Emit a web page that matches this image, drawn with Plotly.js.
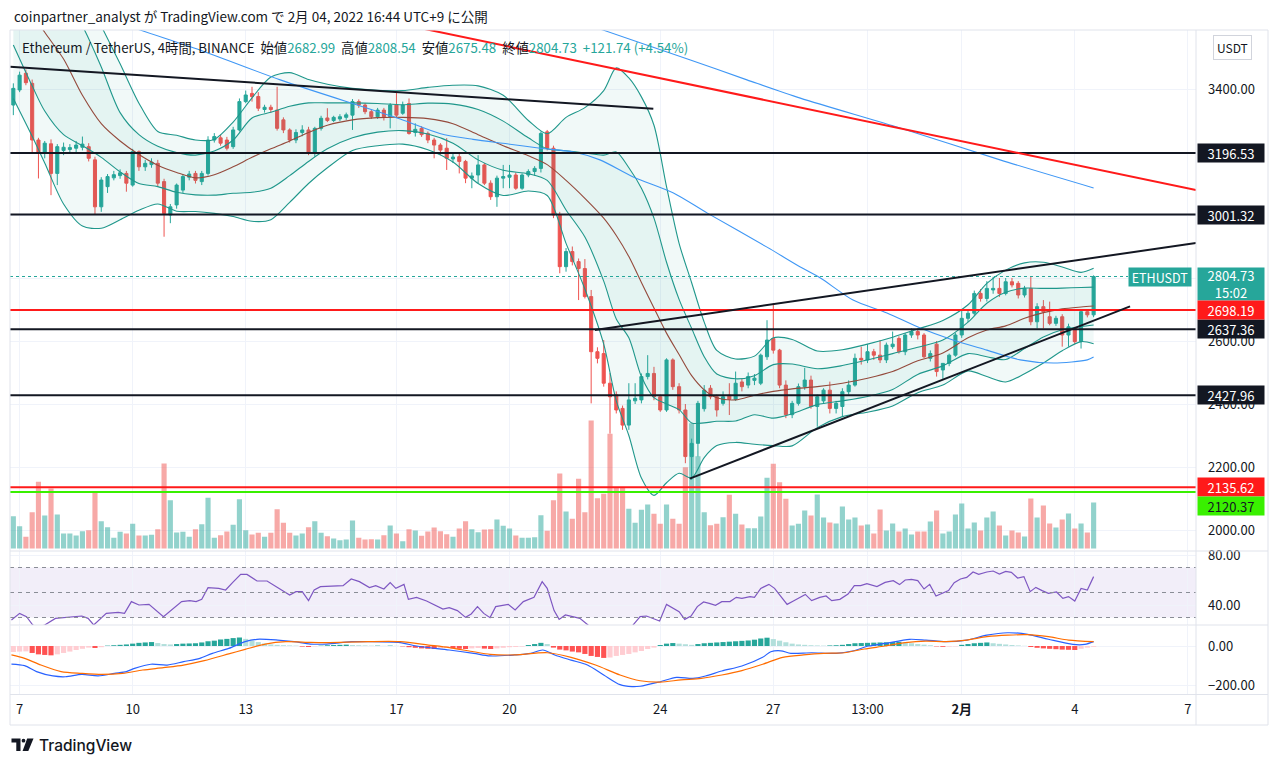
<!DOCTYPE html>
<html><head><meta charset="utf-8">
<script src="https://cdn.plot.ly/plotly-3.0.1.min.js"></script>
<style>html,body{margin:0;padding:0;background:#fff;overflow:hidden}#chart{width:1280px;height:765px}</style>
</head><body><div id="chart"></div>
<script>
// ---------------- DATA ----------------
const openP = [
3349,3397,3450,3418,3238,3196,3226,3132,3205,3208,
3212,3215,3217,3175,3026,3090,3118,3125,3132,3095,
3201,3153,3160,3164,3106,3000,3032,3079,3120,3132,
3106,3132,3238,3245,3238,3217,3270,3360,3386,3376,
3335,3342,3333,3302,3270,3238,3262,3270,3196,3275,
3308,3300,3305,3310,3317,3360,3349,3328,3312,3333,
3312,3349,3323,3354,3262,3275,3259,3238,3222,3212,
3178,3185,3170,3117,3127,3159,3101,3058,3117,3120,
3127,3085,3127,3138,3148,3264,3212,3000,2836,2884,
2852,2830,2741,2566,2560,2466,2429,2386,2333,2410,
2413,2487,2497,2423,2381,2540,2455,2381,2233,2275,
2385,2450,2423,2402,2428,2415,2470,2460,2475,2466,
2550,2608,2571,2460,2366,2402,2455,2476,2392,2410,
2444,2386,2392,2439,2460,2545,2540,2566,2555,2540,
2582,2608,2566,2619,2630,2619,2545,2590,2508,2529,
2555,2619,2672,2688,2751,2735,2762,2767,2751,2788,
2783,2746,2767,2661,2709,2677,2656,2677,2619,2640,
2598,2693,2682.99];
const highP = [
3418,3455,3462,3430,3245,3235,3240,3225,3230,3225,
3235,3249,3228,3185,3120,3130,3140,3145,3140,3210,
3205,3175,3180,3175,3115,3035,3100,3130,3140,3140,
3140,3250,3260,3255,3248,3280,3370,3395,3407,3390,
3350,3350,3407,3310,3275,3272,3285,3280,3280,3315,
3339,3315,3320,3325,3368,3367,3355,3335,3340,3340,
3355,3392,3360,3370,3291,3282,3265,3245,3228,3244,
3200,3196,3175,3135,3190,3165,3110,3125,3159,3159,
3135,3132,3145,3155,3265,3270,3220,3010,2895,2900,
2862,2860,2762,2580,2603,2498,2440,2395,2466,2466,
2497,2555,2518,2430,2545,2545,2466,2400,2290,2410,
2460,2460,2430,2440,2466,2503,2480,2500,2495,2560,
2666,2720,2575,2475,2410,2465,2515,2490,2430,2450,
2471,2410,2450,2475,2560,2582,2590,2575,2603,2595,
2630,2615,2625,2640,2640,2625,2570,2600,2530,2560,
2625,2700,2700,2760,2765,2790,2804,2800,2800,2800,
2790,2775,2804,2720,2730,2725,2680,2685,2655,2645,
2698,2698,2808.54];
const lowP = [
3317,3390,3412,3200,3116,3180,3063,3095,3190,3195,
3200,3205,3170,3000,3010,3070,3110,3115,3074,3090,
3140,3140,3150,3090,2931,2974,3020,3070,3110,3100,
3095,3125,3230,3220,3205,3210,3265,3355,3360,3330,
3325,3325,3268,3260,3230,3228,3250,3190,3185,3268,
3295,3295,3298,3302,3270,3340,3320,3305,3305,3300,
3275,3310,3318,3255,3249,3248,3228,3180,3190,3143,
3165,3132,3101,3085,3101,3095,3048,3026,3085,3085,
3080,3080,3120,3125,3135,3205,2990,2815,2820,2840,
2730,2735,2402,2529,2455,2306,2370,2318,2318,2400,
2402,2478,2412,2375,2375,2445,2370,2212,2159,2233,
2376,2415,2360,2395,2365,2410,2440,2450,2460,2460,
2540,2560,2450,2355,2355,2395,2445,2385,2328,2400,
2370,2370,2360,2430,2455,2525,2530,2540,2530,2530,
2575,2560,2555,2610,2605,2545,2535,2487,2480,2520,
2550,2610,2660,2680,2725,2725,2750,2740,2745,2770,
2735,2738,2650,2640,2640,2650,2648,2582,2582,2590,
2576,2675,2675.48];
const closeP = [
3402,3444,3420,3238,3196,3228,3132,3217,3215,3214,
3222,3225,3180,3026,3111,3122,3128,3134,3101,3201,
3153,3164,3168,3101,3005,3026,3095,3122,3130,3110,
3132,3238,3249,3228,3212,3270,3360,3381,3376,3339,
3342,3335,3275,3270,3238,3262,3270,3196,3275,3307,
3300,3310,3312,3318,3360,3349,3328,3312,3333,3312,
3349,3317,3349,3259,3272,3255,3238,3222,3206,3180,
3184,3170,3117,3124,3159,3101,3058,3117,3122,3127,
3085,3127,3138,3148,3259,3212,3000,2836,2884,2852,
2830,2741,2566,2545,2466,2423,2381,2333,2413,2418,
2487,2497,2423,2381,2540,2455,2381,2233,2275,2402,
2444,2423,2381,2423,2415,2466,2455,2487,2482,2555,
2603,2571,2460,2366,2402,2455,2476,2392,2423,2444,
2386,2402,2439,2460,2545,2540,2566,2555,2540,2587,
2590,2566,2619,2630,2619,2550,2560,2503,2529,2555,
2619,2672,2688,2751,2735,2767,2767,2751,2788,2778,
2746,2767,2661,2709,2693,2656,2672,2619,2645,2598,
2693,2683,2804.73];
// volume, thousand ETH
const volume = [
129,89,47,145,267,132,240,136,60,60,
52,69,73,223,109,85,43,67,60,99,
52,52,55,77,340,193,64,67,47,77,
97,203,43,53,68,95,197,73,56,63,
47,63,157,103,63,52,60,85,109,63,
49,40,33,36,112,43,36,37,36,53,
92,60,29,77,72,51,68,84,69,57,
47,80,109,77,65,76,77,116,91,80,
52,43,43,45,133,71,193,300,148,119,
279,145,512,201,219,459,244,244,159,103,
155,176,139,99,176,119,99,325,501,369,
145,93,99,125,215,139,96,81,81,128,
283,339,265,199,92,99,152,132,216,124,
104,100,168,116,124,92,96,60,156,72,
100,68,80,56,68,68,108,152,60,68,
136,180,80,104,72,124,148,92,52,72,
64,48,200,124,172,100,84,116,140,80,
100,64,184];
const macdHist = [
-30,-28,-27,-35,-42,-45,-47,-42,-35,-28,
-20,-14,-8,-10,-6,2,4,6,8,12,
16,18,20,15,10,8,10,12,13,14,
18,24,27,33,36,40,43,36,28,20,
13,8,6,4,3,2,-3,-5,-2,2,
4,5,6,7,5,4,3,2,2,1,
2,1,-2,-6,-9,-12,-14,-15,-12,-10,
-12,-14,-15,-12,-10,-13,-15,-12,-9,-6,
-5,-3,5,10,16,10,-8,-18,-22,-28,
-32,-40,-50,-55,-60,-58,-50,-45,-40,-32,
-25,-15,-8,5,12,15,12,9,6,10,
14,16,18,20,22,24,26,28,32,38,
42,35,27,19,12,8,6,4,3,2,
3,4,6,10,14,15,16,17,18,19,
20,21,18,14,10,7,4,-2,-4,-3,
-2,6,10,14,16,18,14,11,8,5,
3,1,-5,-9,-12,-14,-16,-18,-19,-20,
-14,-8,-4];

// Bollinger bands, read at sample candles
const bbIdx   = [0,3,5,8,11,14,17,20,23,26,29,32,35,38,41,44,47,50,54,58,62,66,70,74,78,82,85,88,91,94,96,98,100,102,104,106,108,110,112,115,118,121,124,128,132,136,140,144,148,152,155,158,161,164,167,170,172];
const bbMid   = [3715,3640,3580,3495,3380,3290,3235,3192,3158,3135,3118,3128,3153,3183,3210,3235,3262,3285,3302,3309,3310,3306,3290,3255,3220,3188,3160,3110,3053,2990,2935,2868,2786,2705,2625,2557,2490,2445,2420,2413,2428,2440,2448,2455,2466,2482,2503,2537,2562,2610,2635,2648,2672,2690,2702,2708,2711];
const bbInUp  = [3885,3810,3770,3690,3600,3470,3325,3255,3218,3198,3190,3203,3238,3308,3326,3345,3356,3356,3356,3354,3350,3355,3352,3335,3298,3245,3210,3204,3197,3190,3200,3150,3085,2990,2850,2732,2640,2550,2495,2480,2490,2525,2527,2512,2522,2540,2560,2580,2603,2660,2720,2755,2768,2767,2768,2770,2771];
const bbOutUp = [4050,3990,3950,3840,3720,3600,3480,3355,3265,3253,3238,3240,3295,3372,3438,3452,3430,3415,3402,3396,3395,3405,3412,3410,3380,3300,3258,3310,3341,3395,3467,3435,3375,3285,3090,2910,2785,2660,2570,2543,2552,2610,2605,2568,2572,2590,2612,2638,2665,2715,2783,2825,2848,2850,2835,2818,2831];
const bbInLo  = [3540,3410,3330,3255,3220,3183,3137,3100,3090,3072,3064,3063,3069,3072,3085,3125,3170,3210,3245,3263,3268,3257,3228,3175,3142,3131,3110,3016,2930,2790,2670,2610,2487,2420,2400,2382,2340,2340,2345,2346,2366,2355,2369,2398,2410,2424,2446,2494,2521,2560,2550,2541,2576,2613,2636,2646,2651];
const bbOutLo = [3370,3250,3165,3035,2965,2958,2985,3015,3035,3012,3011,3005,2995,2980,2985,3040,3100,3150,3205,3220,3225,3207,3168,3100,3062,3076,3062,2910,2765,2590,2410,2300,2165,2110,2150,2180,2165,2230,2268,2278,2272,2268,2267,2325,2360,2374,2394,2436,2460,2505,2487,2470,2496,2530,2569,2598,2591];

// moving averages (blue), read at sample candles
const ma1Idx = [15,20.2,29.7,42.5,61.6,67.9,73.2,78.6,83.9,89.2,93.4,98.7,105.1,110.5,120,125.3,128.5,133.7,139.1,144.4,149.6,155,160.3,165.6,171,172];
const ma1Val = [3624,3587,3524,3429,3305,3259,3240,3226,3212,3200,3175,3121,3070,3006,2898,2835,2800,2730,2689,2641,2603,2571,2540,2530,2540,2549];
const ma2Idx = [90,93.9,107.8,116.8,125.3,141.2,157.1,172];
const ma2Val = [3612,3587,3492,3429,3371,3276,3175,3086];

// RSI
const rsiIdx = [-0.3,1,2.1,3.1,4,5,6.7,8.3,10.9,11.9,12.8,14.8,16.7,17.7,18.8,20,21.6,23.9,24.9,26.8,28.1,29.1,30,31,32.7,33.8,34.9,36.2,37.2,38.8,40.4,42.1,44,45,46,47,47.9,48.9,52.5,53.8,55.1,56.7,57.7,59,60,60.9,62.2,62.9,64.2,65.8,67.4,68.4,69.4,70.7,72,72.9,73.9,74.9,75.9,76.8,78.8,79.9,81.2,82.9,84.2,85,86.1,86.9,87.9,89.2,90.2,91.5,93,95,97,98.5,99.8,100.8,101.7,102.9,104,105,106,106.9,107.9,108.9,109.9,110.8,111.8,112.8,114.1,115.1,116,117.3,118,119,120.3,121.2,122.2,123.2,124.2,125.5,126.1,127.1,128.4,129.4,130.3,131.6,132.9,133.9,134.9,135.9,137.5,138.8,140.1,141.1,142,143,144,145,145.9,146.9,147.9,148.9,149.8,150.8,151.8,152.8,153.7,155,156,157,158,158.9,159.9,160.9,161.9,162.8,163.8,164.8,166.1,167.1,168,169,170,171,172];
const rsiVal = [28,33.3,30.7,24,22,24,29.3,29.9,31.2,29.3,24,33.3,34.1,33.3,42.7,40,40.5,30.7,34.7,42.7,43.5,42.7,44.5,53.9,53.3,52,57.9,64.5,64.5,59.2,59.2,53.9,48,50.7,50.7,43.5,52,54.7,55.5,60.8,58.7,53.9,55.5,52.8,57.9,53.3,56.5,44.5,46.1,43.2,39.5,36.8,37.9,35.5,30.1,32.8,38.7,33.3,29.9,38.7,40.5,36,42.7,46.1,58.7,53.3,35.5,28.5,32,30.7,29.3,24,20,18,20,23,30.7,31.2,29.3,27.2,40.5,37.3,34.7,28.5,31.2,38.7,42.4,41.3,39.7,42.7,42.7,46.1,45.3,46.7,46.1,53.3,56.5,53.3,46.7,40.5,43.2,47.2,48.5,43.5,46.1,47.2,43.5,44.5,48.8,55.5,55.5,57.1,54.7,58.1,59.5,56.3,60,60.5,59.5,52.8,56.5,47.2,49.3,51.5,57.9,60.8,62.1,66.4,64.5,66.4,67.2,64.8,66.9,66.1,61.6,62.7,50.7,54.1,51.5,49.3,50.4,45.3,46.7,43.2,53.3,52,62.7];
const rsiUpper = 70, rsiMiddle = 50, rsiLower = 30;

// MACD line and signal
const macdIdx = [-0.3,1.8,3.7,6.3,8.3,10.9,13.5,16.1,18,19.3,21.9,24.5,27.1,29.7,31.7,34.3,36.9,38.8,42.1,44.7,47.3,49.9,53.8,56.4,61.6,64.2,69.4,73.3,75.9,79.8,82.4,84.3,86.2,88.8,91.4,94,96.6,98.5,99.8,103,105.6,108.2,110.2,112.8,116,119.3,120.6,122.2,123.8,127.1,131,133.6,136.2,138.8,142.7,145.3,148.5,151.8,155,158.3,161.5,164.8,168.7,170.6,172];
const macdVal = [-91,-99,-129,-151,-155,-143,-151,-138,-129,-113,-92,-96,-79,-62,-37,-12,22,34,30,22,10,10,22,22,17,0,-20,-37,-50,-45,-37,-20,-45,-71,-96,-146,-195,-205,-203,-180,-158,-163,-151,-126,-101,-57,-29,-24,-37,-34,-37,-25,0,13,34,30,22,30,55,67,59,34,8,8,22];
const sigIdx = [-0.3,1.8,4.4,7.6,10.9,14.1,17.4,20.6,23.9,27.1,30.4,34.3,36.9,40.1,43.4,47.3,49.9,56.4,61.6,66.1,69.4,73.3,75.9,79.8,85,88.8,92.7,96.6,99.8,103,106.3,109.5,112.8,116,119.3,122.5,125.8,129,132.3,135.5,138.8,142,145.3,148.5,151.8,155,158.3,161.5,164.8,168,172];
const sigVal = [-45,-62,-96,-129,-138,-143,-138,-121,-109,-96,-74,-40,-17,10,22,18,17,22,22,5,-8,-29,-42,-45,-34,-57,-96,-146,-175,-182,-171,-163,-146,-124,-92,-57,-45,-37,-34,-15,0,17,25,22,30,47,55,57,47,30,22];

// drawings
const levelBlack = [3196.53, 3001.32, 2637.36, 2427.96];
const levelRed = [2698.19, 2135.62];
const levelGreen = [2120.37];
const tlTopX = [-0.5, 101.9], tlTopY = [3471, 3337];
const tlRedX = [50, 188.3],   tlRedY = [3655, 3079];
const tlUpX  = [92.6, 188.3], tlUpY  = [2635, 2911];
const tlLowX = [107.7, 177.8], tlLowY = [2163, 2710];

// axis ticks
const tickIdx  = [1,19,37,61,79,103,121,136,151,169,187];
const tickText = ['7','10','13','17','20','24','27','13:00','<b>2月</b>','4','7'];
const priceTicks = [2000,2200,2400,2600,2800,3000,3200,3400];
const priceTicksHidden = [2800, 3000, 3200];   // fully covered by price tags in the reference
const rsiTicks = [40, 80];
const macdTicks = [-200, 0];
const macdTickText = ['\u2212200.00', '0.00'];

// ---------------- LAYOUT / STYLE ----------------
const W = 1280, H = 765;
const px = x => x / W;
const py = y => 1 - y / H;
const FONT = '"Noto Sans CJK JP", "Noto Sans", sans-serif';
const TEAL = '#26a69a', RED = '#ef5350', INK = '#131722';
const idx = closeP.map((_, i) => i);
const last = closeP.length - 1;
const isUp = idx.map(i => closeP[i] >= openP[i]);
const volColors = isUp.map(u => u ? 'rgba(38,166,154,0.5)' : 'rgba(239,83,80,0.5)');
const histColors = macdHist.map((v, i) => {
  const prev = i > 0 ? macdHist[i - 1] : v;
  if (v >= 0) return v >= prev ? '#26a69a' : '#b2dfdb';
  return v < prev ? '#ff5252' : '#ffcdd2';
});

const xDom = [px(10), px(1196)];
const xRange = [-0.53, 188.3];
const mainDom = [py(550), py(30)];
const rsiDom = [py(625), py(551)];
const macdDom = [py(694), py(626)];
const priceRange = [1936.5, 3587.3];
const volRange = [-6, 2074];
const rsiRange = [24, 83.2];
const macdRange = [-242, 101];

const bbLine = '#1f978b';
const line = (x, y, color, extra) => Object.assign({type:'scatter', mode:'lines', x, y, xaxis:'x', yaxis:'y4', hoverinfo:'skip', line:{color, width:1.1, shape:'spline', smoothing:0.8}}, extra || {});

const traces = [
  {type:'bar', x: idx, y: volume, xaxis:'x', yaxis:'y', marker:{color: volColors, line:{width:0}}, hoverinfo:'skip'},
  line(bbIdx, bbOutUp, bbLine),
  line(bbIdx, bbOutLo, bbLine, {fill:'tonexty', fillcolor:'rgba(38,166,154,0.065)'}),
  line(bbIdx, bbInUp, bbLine),
  line(bbIdx, bbInLo, bbLine, {fill:'tonexty', fillcolor:'rgba(38,166,154,0.06)'}),
  line(bbIdx, bbMid, '#944a3c'),
  line(ma1Idx, ma1Val, '#3f97f5'),
  line(ma2Idx, ma2Val, '#3f97f5'),
  {type:'candlestick', x: idx, open: openP, high: highP, low: lowP, close: closeP, xaxis:'x', yaxis:'y4',
   increasing:{line:{color:TEAL, width:1}, fillcolor:TEAL}, decreasing:{line:{color:RED, width:1}, fillcolor:RED},
   whiskerwidth:0, hoverinfo:'skip'},
  {type:'scatter', mode:'lines', x: rsiIdx, y: rsiVal, xaxis:'x2', yaxis:'y2', line:{color:'#7e57c2', width:1.2}, hoverinfo:'skip'},
  {type:'bar', x: idx, y: macdHist, xaxis:'x3', yaxis:'y3', marker:{color: histColors, line:{width:0}}, hoverinfo:'skip'},
  {type:'scatter', mode:'lines', x: macdIdx, y: macdVal, xaxis:'x3', yaxis:'y3', line:{color:'#2962ff', width:1.2, shape:'spline', smoothing:0.8}, hoverinfo:'skip'},
  {type:'scatter', mode:'lines', x: sigIdx, y: sigVal, xaxis:'x3', yaxis:'y3', line:{color:'#ff6d00', width:1.2, shape:'spline', smoothing:0.8}, hoverinfo:'skip'}
];

const tickFont = {family: FONT, size: 13, color: INK};
const gridC = '#f0f3fa';
const xBase = {domain: xDom, range: xRange, autorange:false, tickvals: tickIdx, showticklabels:false, ticks:'', showgrid:true, gridcolor:gridC, gridwidth:1, zeroline:false, showline:false, fixedrange:true, rangeslider:{visible:false}};
const yRight = {side:'right', ticks:'', showgrid:true, gridcolor:gridC, zeroline:false, showline:false, tickfont: tickFont, ticklabelstandoff: 11, fixedrange:true};

const shapes = [];
// RSI band and guides
shapes.push({type:'rect', xref:'x2 domain', yref:'y2', x0:0, x1:1, y0:rsiLower, y1:rsiUpper, fillcolor:'rgba(126,87,194,0.1)', line:{width:0}, layer:'below'});
[rsiUpper, rsiMiddle, rsiLower].forEach(v => shapes.push({type:'line', xref:'x2 domain', yref:'y2', x0:0, x1:1, y0:v, y1:v, line:{color:'#8a8d96', width:1, dash:'4px,4px'}}));
// last price dotted
shapes.push({type:'line', xref:'x domain', yref:'y4', x0:0, x1:(1128 - 10) / 1186, y0:closeP[last], y1:closeP[last], line:{color:TEAL, width:1, dash:'dot'}});
// horizontal levels
levelBlack.forEach(v => shapes.push({type:'line', xref:'x domain', yref:'y4', x0:0, x1:1, y0:v, y1:v, line:{color:'#131722', width:2}}));
levelRed.forEach(v => shapes.push({type:'line', xref:'x domain', yref:'y4', x0:0, x1:1, y0:v, y1:v, line:{color:'#ff1a1a', width:2}}));
levelGreen.forEach(v => shapes.push({type:'line', xref:'x domain', yref:'y4', x0:0, x1:1, y0:v, y1:v, line:{color:'#39f000', width:2}}));
// trend lines
[[tlTopX, tlTopY, '#131722'], [tlRedX, tlRedY, '#ff1a1a'], [tlUpX, tlUpY, '#131722'], [tlLowX, tlLowY, '#131722']].forEach(([xs, ys, c]) =>
  shapes.push({type:'line', xref:'x', yref:'y4', x0:xs[0], x1:xs[1], y0:ys[0], y1:ys[1], line:{color:c, width:2}}));
// frame / pane separators
const bc = '#e0e3eb';
[30, 551, 625, 694.5, 725].forEach(y => shapes.push({type:'line', xref:'paper', yref:'paper', x0:px(10), x1:px(1268), y0:py(y), y1:py(y), line:{color:bc, width:1}}));
[10, 1196, 1268].forEach(x => shapes.push({type:'line', xref:'paper', yref:'paper', x0:px(x), x1:px(x), y0:py(30), y1:py(725), line:{color:bc, width:1}}));
// TradingView logo mark
const pathOf = pts => pts.map((p, k) => (k ? 'L' : 'M') + px(p[0]).toFixed(5) + ',' + py(p[1]).toFixed(5)).join(' ') + ' Z';
shapes.push({type:'path', xref:'paper', yref:'paper', path: pathOf([[11.5,738.5],[20.5,738.5],[20.5,751],[16.3,751],[16.3,742.6],[11.5,742.6]]), fillcolor:INK, line:{width:0}});
shapes.push({type:'circle', xref:'paper', yref:'paper', x0:px(21.6), x1:px(25.4), y0:py(742.6), y1:py(738.8), fillcolor:INK, line:{width:0}});
shapes.push({type:'path', xref:'paper', yref:'paper', path: pathOf([[27.2,738.5],[33.5,738.5],[28.3,751],[22.6,751]]), fillcolor:INK, line:{width:0}});

const fmt = v => v.toFixed(2);
const val = v => '<span style="color:#26a69a">' + v + '</span>';
const sp = '\u00a0\u00a0';
const chg = closeP[last] - openP[last];
const chgPct = chg / openP[last] * 100;
const legendText = 'Ethereum / TetherUS, 4時間, BINANCE' + sp +
  '始値' + val(fmt(openP[last])) + sp + '高値' + val(fmt(highP[last])) + sp +
  '安値' + val(fmt(lowP[last])) + sp + '終値' + val(fmt(closeP[last])) + sp +
  val('+' + fmt(chg) + ' (+' + fmt(chgPct) + '%)');

const box = (v, bg, fg, shift) => ({xref:'paper', yref:'y4', x:px(1197), y:v, xanchor:'left', yanchor:'middle', yshift: shift || 0, text: fmt(v), showarrow:false,
  bgcolor:bg, font:{family:FONT, size:13, color:fg}, width:62, height:14, borderpad:2, align:'center'});

const annotations = [
  {xref:'paper', yref:'paper', x:px(12), y:py(16), xanchor:'left', yanchor:'middle', showarrow:false,
   text:'coinpartner_analyst が TradingView.com で 2月 04, 2022 16:44 UTC+9 に公開', font:{family:FONT, size:13.5, color:INK}},
  {xref:'paper', yref:'paper', x:px(20), y:py(47), xanchor:'left', yanchor:'middle', showarrow:false,
   text: legendText, font:{family:FONT, size:13.3, color:INK}},
  {xref:'paper', yref:'paper', x:px(1232.5), y:py(47), xanchor:'center', yanchor:'middle', showarrow:false, text:'USDT',
   font:{family:FONT, size:12, color:INK}, bgcolor:'#ffffff', bordercolor:'#d1d4dc', borderwidth:1, borderpad:3},
  {xref:'paper', yref:'y4', x:px(1128), y:closeP[last], xanchor:'left', yanchor:'middle', showarrow:false, text:'ETHUSDT',
   font:{family:FONT, size:12.5, color:'#ffffff'}, bgcolor:TEAL, width:58, height:14, borderpad:2, align:'center'},
  {xref:'paper', yref:'y4', x:px(1197), y:closeP[last], xanchor:'left', yanchor:'top', yshift:10, showarrow:false,
   text: fmt(closeP[last]) + '<br>15:02', font:{family:FONT, size:13, color:'#ffffff'}, bgcolor:TEAL, width:62, height:28, borderpad:2, align:'center'},
  ...levelBlack.map(v => box(v, '#131722', '#ffffff')),
  ...levelRed.map(v => box(v, '#ff1a1a', '#ffffff')),
  ...levelGreen.map(v => box(v, '#39f000', '#131722', -14)),
  {xref:'paper', yref:'paper', x:px(36.5), y:py(745), xanchor:'left', yanchor:'middle', showarrow:false, text:'TradingView',
   font:{family:'Inter, "Noto Sans", sans-serif', size:15.5, color:INK, weight:500}}
];

const layout = {
  width: W, height: H, margin:{l:0, r:0, t:0, b:0}, paper_bgcolor:'#ffffff', plot_bgcolor:'rgba(0,0,0,0)',
  showlegend:false, hovermode:false, dragmode:false, bargap:0.18,
  xaxis:  Object.assign({}, xBase, {anchor:'y'}),
  xaxis2: Object.assign({}, xBase, {anchor:'y2'}),
  xaxis3: Object.assign({}, xBase, {anchor:'y3', showticklabels:true, ticktext:tickText, tickfont:tickFont, ticklabelstandoff:6}),
  yaxis:  {domain: mainDom, range: volRange, visible:false, fixedrange:true},
  yaxis4: Object.assign({}, yRight, {overlaying:'y', anchor:'x', range: priceRange, tickvals: priceTicks,
           ticktext: priceTicks.map(v => priceTicksHidden.includes(v) ? '' : fmt(v))}),
  yaxis2: Object.assign({}, yRight, {domain: rsiDom, anchor:'x2', range: rsiRange, tickvals: rsiTicks, ticktext: rsiTicks.map(fmt)}),
  yaxis3: Object.assign({}, yRight, {domain: macdDom, anchor:'x3', range: macdRange, tickvals: macdTicks, ticktext: macdTickText}),
  shapes, annotations
};

Plotly.newPlot('chart', traces, layout, {staticPlot:true, displayModeBar:false});
</script>
</body></html>
